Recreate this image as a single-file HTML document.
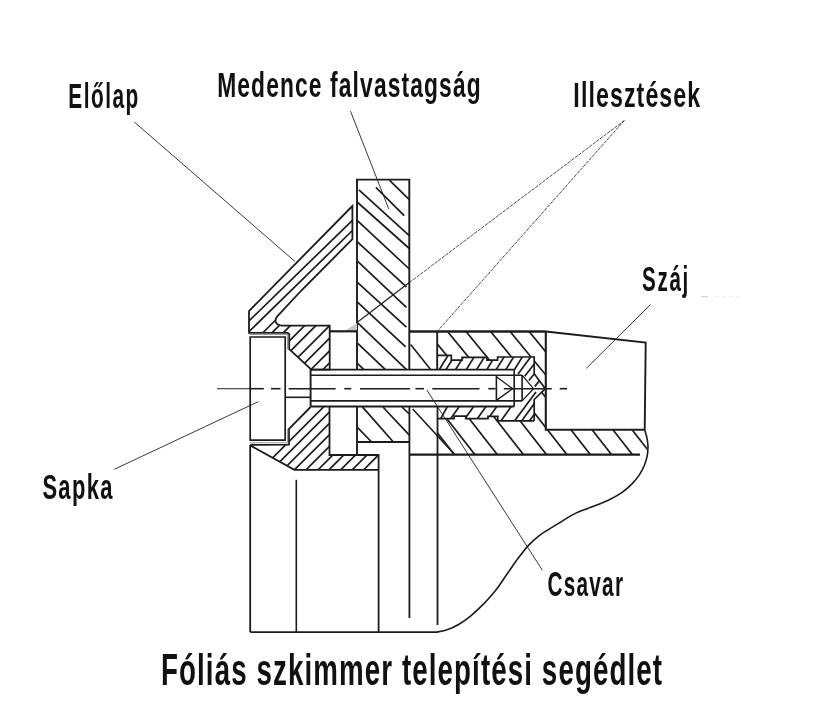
<!DOCTYPE html>
<html lang="hu">
<head>
<meta charset="utf-8">
<title>Fóliás szkimmer telepítési segédlet</title>
<style>
html,body{margin:0;padding:0;background:#fff;}
body{width:833px;height:708px;overflow:hidden;}
svg{display:block;filter:grayscale(1);}
svg text{font-family:"Liberation Sans",sans-serif;fill:#111;}
</style>
</head>
<body>
<svg width="833" height="708" viewBox="0 0 833 708">
<defs>
<clipPath id="c1"><path d="M352.4,206 L249,311 L249,332.8 L287.5,332.8 L289.2,334 L289.2,349.2 L310.6,368.8 L310.6,369.6 L329.7,369.6 L329.7,325.6 L282,325.6 Q277,325.2 275.8,322 Q275,319 277,316.6 L301.8,290 L352.4,239.2 Z"/></clipPath>
<clipPath id="c2"><path d="M310.6,407 L289,428.8 L289,444.6 L250.2,445.2 L294.4,469.8 L378.6,469.8 L378.6,455 L329.5,455 L329.5,406.5 Z"/></clipPath>
<clipPath id="c3"><path d="M437.2,355.3 L451.3,355.3 L451.3,360.2 L462.1,360.2 L462.1,357.3 L486.9,357.3 L486.9,360.2 L497.6,360.2 L497.6,357.0 L534.2,357.0 L534.2,373.7 L545.3,388.7 L533.5,388.7 L522.1,375.2 L514.2,375.2 L514.2,369.6 L437.2,369.6Z"/></clipPath>
<clipPath id="c4"><path d="M437.2,418.6 L454.1,418.6 L454.1,416.2 L465.7,416.2 L465.7,418.6 L488.0,418.6 L488.0,416.4 L497.8,416.4 L497.8,420.8 L534.2,420.8 L534.2,399.5 L545.3,388.7 L533.5,388.7 L522.1,400.9 L514.2,400.9 L514.2,406.5 L437.2,406.5Z"/></clipPath>
<clipPath id="c5"><path d="M437.2,331.5 L545.8,331.5 L545.8,388.7 L534.2,373.7 L534.2,357.0 L497.6,357.0 L497.6,360.2 L486.9,360.2 L486.9,357.3 L462.1,357.3 L462.1,360.2 L451.3,360.2 L451.3,355.3 L437.2,355.3Z"/></clipPath>
<clipPath id="c6"><path d="M437.5,454.6 L641.0,454.6 L647.3,450.0 L647.2,438.0 L644.7,429.8 L545.8,429.8 L545.8,388.7 L534.2,399.5 L534.2,420.5 L497.8,420.8 L497.8,416.4 L488.0,416.4 L488.0,418.6 L465.7,418.6 L465.7,416.2 L454.1,416.2 L454.1,418.6 L437.2,418.6 L437.5,418.2Z"/></clipPath>
</defs>
<rect width="833" height="708" fill="#fff"/>
<g fill="none" stroke-linecap="butt" stroke-linejoin="miter">
<g clip-path="url(#c1)" stroke="#1c1c1c" stroke-width="1.7">
<line x1="200.0" y1="395.6" x2="700.0" y2="-104.4"/>
<line x1="200.0" y1="404.7" x2="700.0" y2="-95.3"/>
<line x1="200.0" y1="416.0" x2="700.0" y2="-84.0"/>
<line x1="200.0" y1="430.3" x2="700.0" y2="-69.7"/>
<line x1="200.0" y1="441.5" x2="700.0" y2="-58.5"/>
<line x1="200.0" y1="455.3" x2="700.0" y2="-44.7"/>
<line x1="200.0" y1="467.8" x2="700.0" y2="-32.2"/>
<line x1="200.0" y1="480.5" x2="700.0" y2="-19.5"/>
<line x1="200.0" y1="492.5" x2="700.0" y2="-7.5"/>
<line x1="352.4" y1="220.3" x2="249.0" y2="321.0"/>
<line x1="352.4" y1="230.5" x2="249.0" y2="331.7"/>
</g>
<path d="M352.4,206 L249,311 L249,332.8 L287.5,332.8 L289.2,334 L289.2,349.2 L310.6,368.8 L310.6,369.6 L329.7,369.6 L329.7,325.6 L282,325.6 Q277,325.2 275.8,322 Q275,319 277,316.6 L301.8,290 L352.4,239.2 Z" fill="none" stroke="#1c1c1c" stroke-width="1.8" />
<g clip-path="url(#c2)" stroke="#1c1c1c" stroke-width="1.7">
<line x1="200.0" y1="530.5" x2="700.0" y2="30.5"/>
<line x1="200.0" y1="541.5" x2="700.0" y2="41.5"/>
<line x1="200.0" y1="552.8" x2="700.0" y2="52.8"/>
<line x1="200.0" y1="564.2" x2="700.0" y2="64.2"/>
<line x1="200.0" y1="575.8" x2="700.0" y2="75.8"/>
<line x1="200.0" y1="587.9" x2="700.0" y2="87.9"/>
<line x1="200.0" y1="598.8" x2="700.0" y2="98.8"/>
<line x1="200.0" y1="610.5" x2="700.0" y2="110.5"/>
<line x1="200.0" y1="622.0" x2="700.0" y2="122.0"/>
<line x1="200.0" y1="633.5" x2="700.0" y2="133.5"/>
</g>
<path d="M310.6,407 L289,428.8 L289,444.6 L250.2,444.8" fill="none" stroke="#1c1c1c" stroke-width="1.8" />
<path d="M250.2,445.4 L294.4,469.8 L378.6,469.8" fill="none" stroke="#1c1c1c" stroke-width="1.8" />
<path d="M378.6,455 L329.5,455 L329.5,406.5" fill="none" stroke="#1c1c1c" stroke-width="1.8" />
<path d="M249.5,334.4 L287.6,334.4 L287.6,349.5" fill="none" stroke="#999" stroke-width="1.1" />
<path d="M287.6,429 L287.6,442.8 L249.5,442.8" fill="none" stroke="#999" stroke-width="1.1" />
<path d="M250.2,337 L285.2,337 L285.2,440.1 L250.2,440.1 Z" fill="none" stroke="#1c1c1c" stroke-width="1.7" />
<line x1="285.2" y1="397.3" x2="310.6" y2="397.3" stroke="#1c1c1c" stroke-width="1.6" />
<g stroke="#1c1c1c" stroke-width="1.7">
<line x1="389.6" y1="180.4" x2="409.3" y2="199.6"/>
<line x1="375.9" y1="187.4" x2="404.2" y2="215.6"/>
<line x1="358.9" y1="189.8" x2="409.3" y2="235.7"/>
<line x1="357.1" y1="202.0" x2="409.3" y2="248.5"/>
<line x1="357.1" y1="220.3" x2="409.3" y2="269.0"/>
<line x1="357.1" y1="241.6" x2="406.4" y2="286.8"/>
<line x1="357.7" y1="261.4" x2="406.4" y2="307.3"/>
<line x1="357.7" y1="282.6" x2="406.4" y2="327.1"/>
<line x1="357.7" y1="302.4" x2="405.7" y2="346.9"/>
<line x1="357.7" y1="322.9" x2="406.5" y2="369.6"/>
<line x1="357.7" y1="343.3" x2="385.4" y2="369.6"/>
<line x1="357.7" y1="363.7" x2="363.9" y2="369.6"/>
<line x1="357.4" y1="427.4" x2="371.6" y2="442.0"/>
<line x1="362.4" y1="406.9" x2="393.4" y2="442.0"/>
<line x1="382.9" y1="407.0" x2="409.3" y2="435.2"/>
<line x1="401.9" y1="407.0" x2="409.3" y2="414.0"/>
</g>
<path d="M357,369.6 L357,179.6 L409.3,179.6 L409.3,369.6" fill="none" stroke="#1c1c1c" stroke-width="1.9" />
<path d="M357,406.5 L357,455" fill="none" stroke="#1c1c1c" stroke-width="1.9" />
<path d="M357,442 L409.3,442" fill="none" stroke="#1c1c1c" stroke-width="1.9" />
<path d="M345,330.8 L357,322.9 L357,330.8 Z" fill="#c8c8c8" stroke="none" stroke-width="0" />
<line x1="329.7" y1="331.3" x2="357.0" y2="331.3" stroke="#1c1c1c" stroke-width="2.2" />
<line x1="409.3" y1="331.5" x2="545.8" y2="331.5" stroke="#1c1c1c" stroke-width="2.3" />
<line x1="437.2" y1="331.5" x2="437.2" y2="369.6" stroke="#1c1c1c" stroke-width="1.9" />
<line x1="410.6" y1="344.6" x2="430.4" y2="369.3" stroke="#1c1c1c" stroke-width="1.6" />
<line x1="409.4" y1="406.5" x2="409.4" y2="618.0" stroke="#1c1c1c" stroke-width="1.8" />
<line x1="437.5" y1="406.5" x2="437.5" y2="625.0" stroke="#1c1c1c" stroke-width="1.8" />
<line x1="412.7" y1="409.0" x2="454.4" y2="454.2" stroke="#1c1c1c" stroke-width="1.6" />
<path d="M545.8,331.5 L645.7,342.6 L644.7,429.8" fill="none" stroke="#1c1c1c" stroke-width="1.9" />
<path d="M545.8,331.5 L545.8,429.8 L645,429.8" fill="none" stroke="#1c1c1c" stroke-width="2.1" />
<line x1="409.3" y1="454.6" x2="640.0" y2="454.6" stroke="#1c1c1c" stroke-width="2.1" />
<path d="M644.7,429.8 C645.1,431.3 646.6,435.7 647.1,438.6 C647.6,441.5 648.0,444.1 648.0,447.1 C648.0,450.1 647.7,453.3 647.1,456.4 C646.5,459.5 645.5,462.7 644.2,465.8 C642.9,468.9 641.3,472.0 639.2,475.1 C637.1,478.2 634.5,481.4 631.5,484.4 C628.5,487.4 625.4,490.2 621.4,492.9 C617.4,495.6 612.9,498.1 607.8,500.5 C602.7,502.9 596.4,505.0 590.8,507.3 C585.1,509.6 579.0,511.6 573.9,514.1 C568.8,516.6 564.2,520.0 560.0,522.5 C555.8,525.0 552.4,527.0 548.8,529.3 C545.2,531.6 542.0,533.4 538.6,536.1 C535.2,538.8 531.9,541.7 528.5,545.4 C525.1,549.1 521.7,553.6 518.3,558.1 C514.9,562.6 511.8,567.3 508.1,572.5 C504.4,577.7 500.2,584.4 496.3,589.5 C492.4,594.6 488.6,598.7 484.4,603.1 C480.1,607.5 475.0,612.3 470.8,615.8 C466.6,619.3 462.9,621.9 459.0,624.2 C455.1,626.5 450.8,628.5 447.1,629.8 C443.4,631.1 438.7,631.6 437.0,632.0" fill="none" stroke="#1c1c1c" stroke-width="1.6" />
<g clip-path="url(#c3)" stroke="#1c1c1c" stroke-width="1.7">
<line x1="437.8" y1="372.0" x2="451.5" y2="350.0"/>
<line x1="444.5" y1="372.0" x2="458.2" y2="350.0"/>
<line x1="454.1" y1="372.0" x2="467.8" y2="350.0"/>
<line x1="464.8" y1="372.0" x2="478.5" y2="350.0"/>
<line x1="475.1" y1="372.0" x2="488.8" y2="350.0"/>
<line x1="485.3" y1="372.0" x2="499.0" y2="350.0"/>
<line x1="494.7" y1="372.0" x2="508.4" y2="350.0"/>
<line x1="504.3" y1="372.0" x2="518.0" y2="350.0"/>
<line x1="514.2" y1="370.0" x2="522.3" y2="357.0"/>
<line x1="517.9" y1="374.2" x2="530.4" y2="357.3"/>
<line x1="524.7" y1="376.3" x2="534.2" y2="364.0"/>
<line x1="528.9" y1="380.5" x2="537.4" y2="370.0"/>
<line x1="534.8" y1="386.4" x2="541.5" y2="378.4"/>
</g>
<g clip-path="url(#c4)" stroke="#1c1c1c" stroke-width="1.7">
<line x1="437.7" y1="424.0" x2="448.8" y2="404.0"/>
<line x1="446.8" y1="424.0" x2="461.1" y2="404.0"/>
<line x1="461.2" y1="424.0" x2="475.5" y2="404.0"/>
<line x1="473.5" y1="424.0" x2="487.8" y2="404.0"/>
<line x1="484.3" y1="424.0" x2="498.6" y2="404.0"/>
<line x1="498.7" y1="424.0" x2="513.0" y2="404.0"/>
<line x1="512.8" y1="423.2" x2="536.0" y2="392.0"/>
<line x1="520.0" y1="423.2" x2="541.0" y2="394.3"/>
<line x1="529.5" y1="420.8" x2="534.2" y2="414.4"/>
</g>
<path d="M437.2,355.3 L451.3,355.3 L451.3,360.2 L462.1,360.2 L462.1,357.3 L486.9,357.3 L486.9,360.2 L497.6,360.2 L497.6,357.0 L534.2,357.0 L534.2,373.7 L545.3,388.7 L534.2,399.5 L534.2,420.8" fill="none" stroke="#1c1c1c" stroke-width="1.7" />
<path d="M437.2,418.6 L454.1,418.6 L454.1,416.2 L465.7,416.2 L465.7,418.6 L488.0,418.6 L488.0,416.4 L497.8,416.4 L497.8,420.8 L534.2,420.8" fill="none" stroke="#1c1c1c" stroke-width="1.7" />
<g clip-path="url(#c5)" stroke="#1c1c1c" stroke-width="1.7">
<line x1="427.0" y1="331.5" x2="476.2" y2="391.5"/>
<line x1="447.5" y1="331.5" x2="496.7" y2="391.5"/>
<line x1="466.0" y1="331.5" x2="515.2" y2="391.5"/>
<line x1="490.6" y1="331.5" x2="539.8" y2="391.5"/>
<line x1="510.1" y1="331.5" x2="559.3" y2="391.5"/>
<line x1="529.1" y1="331.5" x2="578.3" y2="391.5"/>
</g>
<g clip-path="url(#c6)" stroke="#1c1c1c" stroke-width="1.7">
<line x1="399.7" y1="384.6" x2="458.3" y2="459.6"/>
<line x1="420.2" y1="384.6" x2="478.8" y2="459.6"/>
<line x1="442.6" y1="384.6" x2="501.2" y2="459.6"/>
<line x1="468.8" y1="384.6" x2="527.4" y2="459.6"/>
<line x1="491.8" y1="384.6" x2="550.4" y2="459.6"/>
<line x1="512.2" y1="384.6" x2="570.8" y2="459.6"/>
<line x1="535.7" y1="384.6" x2="594.3" y2="459.6"/>
<line x1="556.8" y1="384.6" x2="615.4" y2="459.6"/>
<line x1="577.7" y1="384.6" x2="636.3" y2="459.6"/>
<line x1="596.8" y1="384.6" x2="655.4" y2="459.6"/>
</g>
<line x1="310.6" y1="369.6" x2="514.2" y2="369.6" stroke="#1c1c1c" stroke-width="1.9" />
<line x1="310.6" y1="406.5" x2="514.2" y2="406.5" stroke="#1c1c1c" stroke-width="1.9" />
<line x1="310.6" y1="375.2" x2="522.1" y2="375.2" stroke="#1c1c1c" stroke-width="1.6" />
<line x1="310.6" y1="400.9" x2="522.1" y2="400.9" stroke="#1c1c1c" stroke-width="1.6" />
<line x1="310.6" y1="369.6" x2="310.6" y2="406.5" stroke="#1c1c1c" stroke-width="1.9" />
<line x1="514.2" y1="369.6" x2="514.2" y2="406.5" stroke="#1c1c1c" stroke-width="1.6" />
<line x1="522.1" y1="375.2" x2="522.1" y2="400.9" stroke="#1c1c1c" stroke-width="1.6" />
<line x1="496.4" y1="375.2" x2="496.4" y2="400.9" stroke="#1c1c1c" stroke-width="1.6" />
<path d="M496.4,376.7 L512.7,388.7 L496.4,400.4" fill="none" stroke="#1c1c1c" stroke-width="1.3" />
<path d="M522.1,375.2 L533.5,388.7 L522.1,400.9" fill="none" stroke="#1c1c1c" stroke-width="1.3" />
<line x1="217.0" y1="388.7" x2="250.2" y2="388.7" stroke="#1c1c1c" stroke-width="1.1" />
<line x1="250.2" y1="388.7" x2="263.8" y2="388.7" stroke="#1c1c1c" stroke-width="1.6" />
<line x1="271.0" y1="388.7" x2="280.5" y2="388.7" stroke="#1c1c1c" stroke-width="1.6" />
<line x1="288.6" y1="388.7" x2="335.6" y2="388.7" stroke="#1c1c1c" stroke-width="1.6" />
<line x1="344.3" y1="388.7" x2="351.3" y2="388.7" stroke="#1c1c1c" stroke-width="1.6" />
<line x1="360.0" y1="388.7" x2="409.9" y2="388.7" stroke="#1c1c1c" stroke-width="1.6" />
<line x1="415.5" y1="388.7" x2="424.0" y2="388.7" stroke="#1c1c1c" stroke-width="1.6" />
<line x1="432.3" y1="388.7" x2="479.5" y2="388.7" stroke="#1c1c1c" stroke-width="1.6" />
<line x1="488.3" y1="388.7" x2="495.6" y2="388.7" stroke="#1c1c1c" stroke-width="1.6" />
<line x1="503.8" y1="388.7" x2="551.8" y2="388.7" stroke="#1c1c1c" stroke-width="1.6" />
<line x1="559.7" y1="388.7" x2="567.0" y2="388.7" stroke="#1c1c1c" stroke-width="1.6" />
<line x1="250.2" y1="445.0" x2="250.2" y2="632.0" stroke="#1c1c1c" stroke-width="1.8" />
<line x1="296.3" y1="479.8" x2="296.3" y2="632.0" stroke="#1c1c1c" stroke-width="1.6" />
<line x1="378.6" y1="454.1" x2="378.6" y2="632.0" stroke="#1c1c1c" stroke-width="1.8" />
<line x1="250.2" y1="632.1" x2="437.5" y2="632.1" stroke="#1c1c1c" stroke-width="1.8" />
<line x1="134.3" y1="122.0" x2="295.0" y2="261.5" stroke="#222" stroke-width="0.9" />
<line x1="350.5" y1="111.2" x2="388.7" y2="208.8" stroke="#222" stroke-width="0.9" />
<line x1="624.3" y1="120.5" x2="409.3" y2="282.6" stroke="#3a3a3a" stroke-width="0.9" stroke-dasharray="3.5 1"/>
<line x1="409.3" y1="282.6" x2="357.0" y2="322.6" stroke="#222" stroke-width="1.2" />
<line x1="624.3" y1="120.5" x2="437.2" y2="331.5" stroke="#3a3a3a" stroke-width="0.9" stroke-dasharray="3.5 1"/>
<line x1="650.7" y1="304.4" x2="586.4" y2="368.3" stroke="#222" stroke-width="0.9" />
<line x1="114.3" y1="469.3" x2="258.4" y2="401.6" stroke="#222" stroke-width="0.9" />
<line x1="426.8" y1="389.9" x2="542.3" y2="570.2" stroke="#222" stroke-width="0.9" />
<line x1="701.0" y1="296.7" x2="708.0" y2="296.7" stroke="#bbb" stroke-width="0.8" />
<line x1="715.0" y1="296.7" x2="743.0" y2="296.7" stroke="#e2e2e2" stroke-width="0.6" stroke-dasharray="4 3"/>
</g>
<g>
<text transform="translate(68.35,107.5) scale(0.5794,1)" font-size="36" font-weight="bold" textLength="120.64" lengthAdjust="spacing">Előlap</text>
<text transform="translate(217.18,96.8) scale(0.6337,1)" font-size="36" font-weight="bold" textLength="415.72" lengthAdjust="spacing">Medence falvastagság</text>
<text transform="translate(573.37,107.0) scale(0.6444,1)" font-size="36" font-weight="bold" textLength="196.85" lengthAdjust="spacing">Illesztések</text>
<text transform="translate(642.12,291.3) scale(0.5744,1)" font-size="36" font-weight="bold" textLength="80.32" lengthAdjust="spacing">Száj</text>
<text transform="translate(42.39,498.8) scale(0.6093,1)" font-size="36" font-weight="bold" textLength="114.90" lengthAdjust="spacing">Sapka</text>
<text transform="translate(547.38,595.7) scale(0.5777,1)" font-size="36" font-weight="bold" textLength="130.94" lengthAdjust="spacing">Csavar</text>
<text transform="translate(160.99,684.6) scale(0.6305,1)" font-size="44" font-weight="bold" textLength="794.67" lengthAdjust="spacing">Fóliás szkimmer telepítési segédlet</text>
</g>
</svg>
</body>
</html>
